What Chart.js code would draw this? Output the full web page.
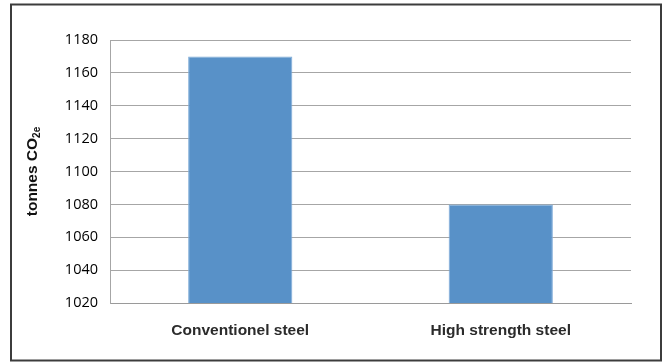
<!DOCTYPE html>
<html>
<head>
<meta charset="utf-8">
<script src="https://cdn.jsdelivr.net/npm/chart.js@4/dist/chart.umd.min.js"></script>
<style>
  html, body { margin: 0; padding: 0; background: #fff; }
  #wrap { width: 664px; height: 363px; position: relative; }
</style>
</head>
<body>
<div id="wrap"><canvas id="c" width="664" height="363"></canvas></div>
<script>
// Emissions per steel type
const categories = ['Conventionel steel', 'High strength steel'];
const emissions = [1170, 1080];
const yMin = 1020, yMax = 1180, yStep = 20;

// Frame around the whole figure and the rotated y-axis title with subscript
const framePlugin = {
  id: 'frame',
  beforeDraw(chart) {
    const ctx = chart.ctx;
    ctx.save();
    ctx.fillStyle = '#fff';
    ctx.fillRect(0, 0, chart.width, chart.height);
    ctx.restore();
  },
  afterDraw(chart) {
    const ctx = chart.ctx;
    const area = chart.chartArea;
    ctx.save();
    ctx.strokeStyle = '#3c3c3c';
    ctx.lineWidth = 2;
    ctx.strokeRect(11, 4.5, 650, 356);

    // y-axis title: "tonnes CO" + subscript "2e"
    const cy = (area.top + area.bottom) / 2;
    ctx.translate(33, cy);
    ctx.rotate(-Math.PI / 2);
    ctx.fillStyle = '#111';
    ctx.textBaseline = 'middle';
    const mainFont = 'bold 15.5px "Liberation Sans", Arial, sans-serif';
    const subFont = 'bold 10px "Liberation Sans", Arial, sans-serif';
    ctx.font = mainFont;
    const mainText = 'tonnes CO';
    const wMain = ctx.measureText(mainText).width;
    ctx.font = subFont;
    const wSub = ctx.measureText('2e').width;
    const total = wMain + wSub;
    ctx.font = mainFont;
    ctx.textAlign = 'left';
    ctx.fillText(mainText, -total / 2, 0);
    ctx.font = subFont;
    ctx.fillText('2e', -total / 2 + wMain, 4);
    ctx.restore();
  }
};

new Chart(document.getElementById('c'), {
  type: 'bar',
  data: {
    labels: categories,
    datasets: [{
      data: emissions,
      backgroundColor: '#5891c8',
      borderColor: '#7eabd8',
      borderWidth: 1,
      categoryPercentage: 1.0,
      barPercentage: 0.4
    }]
  },
  options: {
    responsive: false,
    animation: false,
    events: [],
    layout: { padding: { left: 0, top: 40, right: 33, bottom: 0 } },
    plugins: {
      legend: { display: false },
      tooltip: { enabled: false },
      title: { display: false }
    },
    scales: {
      x: {
        afterFit(scale) { scale.height = 60; },
        grid: { display: false, drawTicks: false },
        border: { display: true, color: '#9a9a9a', width: 1 },
        ticks: {
          padding: 18,
          color: '#2b2b2b',
          font: { family: '"Liberation Sans", Arial, sans-serif', size: 15.5, weight: 'bold' }
        }
      },
      y: {
        min: yMin,
        max: yMax,
        afterFit(scale) { scale.width = 110; },
        grid: { color: '#a6a6a6', lineWidth: 1, drawTicks: false },
        border: { display: true, color: '#a6a6a6', width: 1 },
        ticks: {
          stepSize: yStep,
          padding: 12,
          color: '#000',
          callback: (v) => String(v),
          font: { family: '"Open Sans", sans-serif', size: 14.5 }
        }
      }
    }
  },
  plugins: [framePlugin]
});
</script>
</body>
</html>
